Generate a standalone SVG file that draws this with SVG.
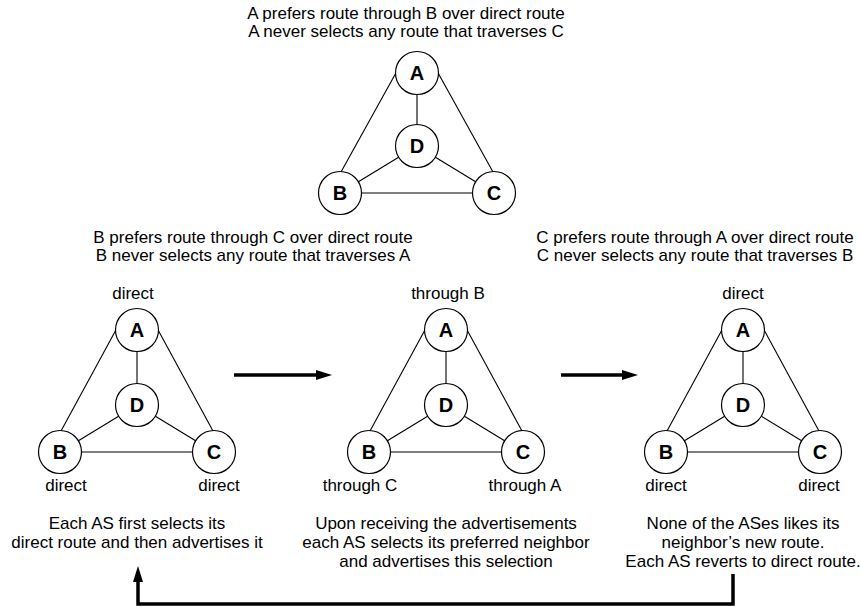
<svg xmlns="http://www.w3.org/2000/svg" width="862" height="607" viewBox="0 0 862 607">
<style>
.t{font-family:"Liberation Sans",Arial,sans-serif;font-size:17px;fill:#000;text-anchor:middle}
.n circle{fill:#fff;stroke:#000;stroke-width:1.2}
.n text{font-family:"Liberation Sans",Arial,sans-serif;font-size:20px;font-weight:bold;fill:#000;text-anchor:middle}
.e line{stroke:#000;stroke-width:1.1}
.big{stroke:#000;stroke-width:3.5;fill:none;marker-end:url(#ah)}
</style>
<defs>
<marker id="ah" viewBox="0 0 16 10" markerWidth="16" markerHeight="10" refX="4" refY="5" orient="auto" markerUnits="userSpaceOnUse">
<path d="M0,0 L16,5 L0,10 z" fill="#000"/>
</marker>
</defs>
<rect width="862" height="607" fill="#fff"/>

<g id="texts">
<text class="t" x="406" y="19">A prefers route through B over direct route</text>
<text class="t" x="406" y="37">A never selects any route that traverses C</text>
<text class="t" x="253" y="243">B prefers route through C over direct route</text>
<text class="t" x="253" y="261">B never selects any route that traverses A</text>
<text class="t" x="695" y="243">C prefers route through A over direct route</text>
<text class="t" x="695" y="261">C never selects any route that traverses B</text>
<text class="t" x="133" y="299">direct</text>
<text class="t" x="66" y="491">direct</text>
<text class="t" x="219" y="491">direct</text>
<text class="t" x="448" y="299">through B</text>
<text class="t" x="360" y="491">through C</text>
<text class="t" x="525" y="491">through A</text>
<text class="t" x="743" y="299">direct</text>
<text class="t" x="666" y="491">direct</text>
<text class="t" x="819" y="491">direct</text>
<text class="t" x="137" y="529">Each AS first selects its</text>
<text class="t" x="137" y="548">direct route and then advertises it</text>
<text class="t" x="446" y="529">Upon receiving the advertisements</text>
<text class="t" x="446" y="548">each AS selects its preferred neighbor</text>
<text class="t" x="446" y="567">and advertises this selection</text>
<text class="t" x="743" y="529">None of the ASes likes its</text>
<text class="t" x="743" y="548">neighbor’s new route.</text>
<text class="t" x="743" y="567">Each AS reverts to direct route.</text>
</g>

<g id="connectors">
<g class="e">
<line x1="397" y1="71" x2="341" y2="172"/>
<line x1="437" y1="71" x2="493" y2="172"/>
<line x1="417" y1="94.5" x2="417" y2="124.5"/>
<line x1="398.6" y1="157.2" x2="358.4" y2="181.8"/>
<line x1="435.4" y1="157.2" x2="475.6" y2="181.8"/>
<line x1="361.5" y1="193" x2="472.5" y2="193"/>

<line x1="117" y1="328" x2="61" y2="431"/>
<line x1="157" y1="328" x2="213" y2="431"/>
<line x1="137" y1="351.5" x2="137" y2="383.5"/>
<line x1="118.6" y1="416.2" x2="78.4" y2="440.8"/>
<line x1="155.4" y1="416.2" x2="195.6" y2="440.8"/>
<line x1="81.5" y1="452" x2="192.5" y2="452"/>

<line x1="426" y1="328" x2="370" y2="431"/>
<line x1="466" y1="328" x2="522" y2="431"/>
<line x1="446" y1="351.5" x2="446" y2="383.5"/>
<line x1="427.6" y1="416.2" x2="387.4" y2="440.8"/>
<line x1="464.4" y1="416.2" x2="504.6" y2="440.8"/>
<line x1="390.5" y1="452" x2="501.5" y2="452"/>

<line x1="723" y1="328" x2="667" y2="431"/>
<line x1="763" y1="328" x2="819" y2="431"/>
<line x1="743" y1="351.5" x2="743" y2="383.5"/>
<line x1="724.6" y1="416.2" x2="684.4" y2="440.8"/>
<line x1="761.4" y1="416.2" x2="801.6" y2="440.8"/>
<line x1="687.5" y1="452" x2="798.5" y2="452"/>
</g>
<line class="big" x1="234" y1="375" x2="320" y2="375"/>
<line class="big" x1="561" y1="375" x2="626" y2="375"/>
<polyline class="big" points="733,574 733,604 138,604 138,578"/>
</g>

<g id="top-A" class="n"><circle cx="417" cy="73" r="21.5"/><text x="417" y="80">A</text></g>
<g id="top-D" class="n"><circle cx="417" cy="146" r="21.5"/><text x="417" y="153">D</text></g>
<g id="top-B" class="n"><circle cx="340" cy="193" r="21.5"/><text x="340" y="200">B</text></g>
<g id="top-C" class="n"><circle cx="494" cy="193" r="21.5"/><text x="494" y="200">C</text></g>

<g id="left-A" class="n"><circle cx="137" cy="330" r="21.5"/><text x="137" y="337">A</text></g>
<g id="left-D" class="n"><circle cx="137" cy="405" r="21.5"/><text x="137" y="412">D</text></g>
<g id="left-B" class="n"><circle cx="60" cy="452" r="21.5"/><text x="60" y="459">B</text></g>
<g id="left-C" class="n"><circle cx="214" cy="452" r="21.5"/><text x="214" y="459">C</text></g>

<g id="mid-A" class="n"><circle cx="446" cy="330" r="21.5"/><text x="446" y="337">A</text></g>
<g id="mid-D" class="n"><circle cx="446" cy="405" r="21.5"/><text x="446" y="412">D</text></g>
<g id="mid-B" class="n"><circle cx="369" cy="452" r="21.5"/><text x="369" y="459">B</text></g>
<g id="mid-C" class="n"><circle cx="523" cy="452" r="21.5"/><text x="523" y="459">C</text></g>

<g id="right-A" class="n"><circle cx="743" cy="330" r="21.5"/><text x="743" y="337">A</text></g>
<g id="right-D" class="n"><circle cx="743" cy="405" r="21.5"/><text x="743" y="412">D</text></g>
<g id="right-B" class="n"><circle cx="666" cy="452" r="21.5"/><text x="666" y="459">B</text></g>
<g id="right-C" class="n"><circle cx="820" cy="452" r="21.5"/><text x="820" y="459">C</text></g>
</svg>
